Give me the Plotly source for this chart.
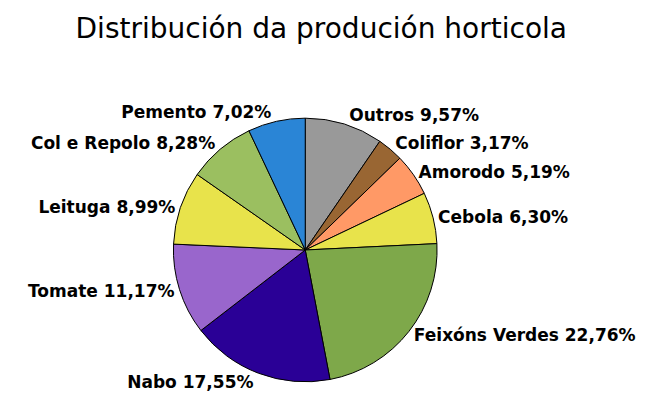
import plotly.graph_objects as go

categories = ["Outros", "Coliflor", "Amorodo", "Cebola", "Feixóns Verdes",
              "Nabo", "Tomate", "Leituga", "Col e Repolo", "Pemento"]
values = [9.57, 3.17, 5.19, 6.30, 22.76, 17.55, 11.17, 8.99, 8.28, 7.02]
colors = ["#999999", "#996633", "#FF9966", "#E8E34B", "#7EA84A",
          "#2A0096", "#9966CC", "#E8E34B", "#9BBF60", "#2A85D6"]

labels_text = [f"{c} {v:.2f}%".replace(".", ",") for c, v in zip(categories, values)]

fig = go.Figure(go.Pie(
    labels=categories,
    values=values,
    text=labels_text,
    textinfo="text",
    textposition="outside",
    sort=False,
    direction="clockwise",
    rotation=0,
    marker=dict(colors=colors, line=dict(color="#000000", width=1)),
    outsidetextfont=dict(family="DejaVu Sans", size=17, color="#000000"),
    texttemplate="<b>%{text}</b>",
    showlegend=False,
    domain=dict(x=[0.252, 0.657], y=[0.077, 0.728]),
))

fig.update_layout(
    width=654, height=405,
    margin=dict(l=0, r=0, t=0, b=0),
    paper_bgcolor="white",
    title=dict(text="Distribución da produción horticola", x=0.479, xanchor="center",
               y=0.95, yanchor="middle",
               font=dict(family="DejaVu Sans", size=28, color="#000000")),
)

fig.write_html("out.html")
